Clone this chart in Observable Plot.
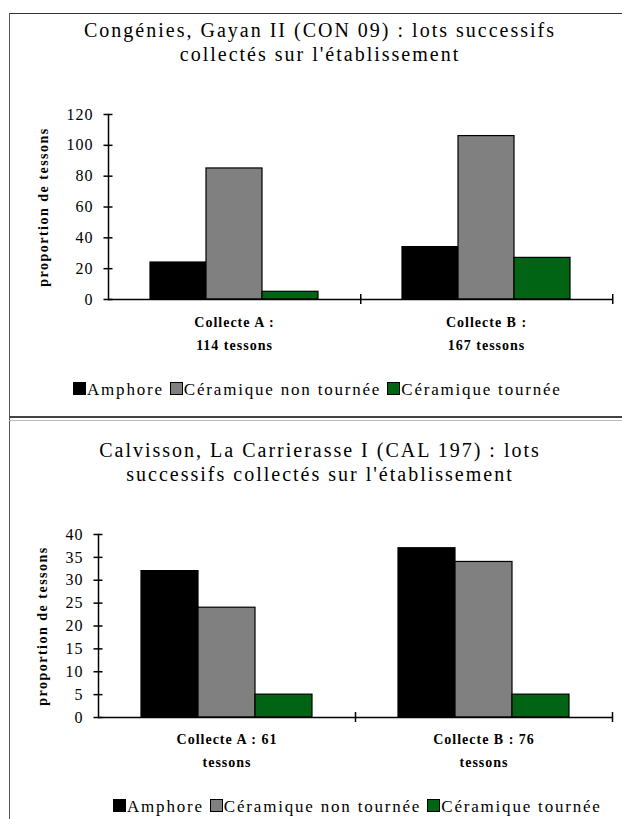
<!DOCTYPE html>
<html><head><meta charset="utf-8">
<script src="https://cdn.jsdelivr.net/npm/d3@7"></script>
<script src="https://cdn.jsdelivr.net/npm/@observablehq/plot@0.6"></script>
<style>
body{margin:0;background:#fff;}
#page{position:relative;width:622px;height:819px;overflow:hidden;font-family:"Liberation Serif","DejaVu Serif",serif;color:#000;background:#fff;}
.abs{position:absolute;}
.title{position:absolute;left:10px;width:620px;text-align:center;font-size:20px;letter-spacing:2px;line-height:24px;white-space:nowrap;}
.legend{position:absolute;font-size:17px;letter-spacing:1.8px;white-space:nowrap;line-height:20px;}
.sw{display:inline-block;width:11px;height:11px;border:1px solid #000;margin-right:1px;vertical-align:0px;}
.chart{position:absolute;left:0;}
.chart g[aria-label="y-axis label"] text{font-weight:bold;font-size:14px;letter-spacing:1.5px;}
.chart g[aria-label="y-axis tick label"] text{font-size:16px;letter-spacing:1px;}
.chart g[aria-label="text"] text{letter-spacing:1px;}
</style></head><body><div id="page">
<div class="abs" style="left:9px;top:13px;width:613px;height:1px;background:#333"></div>
<div class="abs" style="left:9px;top:13px;width:1px;height:806px;background:#555"></div>
<div class="abs" style="left:9px;top:416px;width:613px;height:2px;background:#444"></div>
<div class="abs" style="left:9px;top:420px;width:613px;height:1px;background:#bbb"></div>
</div>
<script>
// ---- data ----
const types = ["Amphore", "Céramique non tournée", "Céramique tournée"];
const typeColors = ["#000000", "#808080", "#006414"];

const title1 = ["Congénies, Gayan II (CON 09) : lots successifs", "collectés sur l'établissement"];
const collectes1 = ["Collecte A", "Collecte B"];
const collecteLabels1 = ["Collecte A :\n114 tessons", "Collecte B :\n167 tessons"];
const amphore1 = [24, 34];
const nonTournee1 = [85, 106];
const tournee1 = [5, 27];
const yTicks1 = [0, 20, 40, 60, 80, 100, 120];

const title2 = ["Calvisson, La Carrierasse I (CAL 197) : lots", "successifs collectés sur l'établissement"];
const collectes2 = ["Collecte A", "Collecte B"];
const collecteLabels2 = ["Collecte A : 61\ntessons", "Collecte B : 76\ntessons"];
const amphore2 = [32, 37];
const nonTournee2 = [24, 34];
const tournee2 = [5, 5];
const yTicks2 = [0, 5, 10, 15, 20, 25, 30, 35, 40];

const yLabel = "proportion de tessons";

const page = document.getElementById("page");

function addTitle(lines, top) {
  const d = document.createElement("div");
  d.className = "title";
  d.style.top = top + "px";
  d.innerHTML = lines.map(l => `<div>${l}</div>`).join("");
  page.appendChild(d);
}
function addLegend(left, top) {
  const d = document.createElement("div");
  d.className = "legend";
  d.style.left = left + "px";
  d.style.top = top + "px";
  d.innerHTML = types.map((t, i) => `<span class="sw" style="background:${typeColors[i]}"></span>${t}`).join(" ");
  page.appendChild(d);
}

function makeChart(cfg) {
  const {collectes, labels, series, yTicks, top, height, marginLeft, marginTop, marginBottom, labelDy, labelOffset} = cfg;
  const width = 622, marginRight = 10;
  const rows = [];
  collectes.forEach((c, i) => types.forEach((t, j) => rows.push({collecte: c, type: t, value: series[j][i]})));
  const labelRows = collectes.map((c, i) => ({collecte: c, label: labels[i]}));
  const facetW = (width - marginLeft - marginRight) / collectes.length;
  const yMax = yTicks[yTicks.length - 1];
  const svg = Plot.plot({
    width, height, marginLeft, marginRight, marginTop, marginBottom,
    style: {fontFamily: "'Liberation Serif', serif", fontSize: "15px", color: "#000", background: "transparent", overflow: "visible"},
    fx: {domain: collectes, padding: 0, label: null},
    x: {domain: types, paddingInner: 0, paddingOuter: 0.73, axis: null},
    y: {domain: [0, yMax]},
    color: {domain: types, range: typeColors},
    marks: [
      Plot.barY(rows, {fx: "collecte", x: "type", y: "value", fill: "type", stroke: "#000", strokeWidth: 1.2, inset: 0}),
      Plot.ruleY([0], {stroke: "#000", strokeWidth: 1.5}),
      Plot.frame({anchor: "left", facetAnchor: "left", stroke: "#000", strokeWidth: 1.5}),
      Plot.axisY({ticks: yTicks, tickSize: 9, dx: 4.5, tickFormat: () => "", strokeWidth: 1.5, label: null}),
      Plot.axisY({ticks: yTicks, tickSize: 0, tickPadding: 15, fontSize: 16, label: yLabel, labelAnchor: "center", labelArrow: false, labelOffset}),
      Plot.axisFx({anchor: "bottom", tickSize: 10, dy: -5, dx: facetW / 2, tickFormat: () => "", strokeWidth: 1.5, label: null}),
      Plot.text(labelRows, {fx: "collecte", text: "label", frameAnchor: "bottom", dy: labelDy, lineAnchor: "top", lineHeight: 1.65, fontSize: 14, fontWeight: "bold"})
    ]
  });
  svg.classList.add("chart");
  svg.style.top = top + "px";
  page.appendChild(svg);
  return svg;
}

addTitle(title1, 18);
makeChart({collectes: collectes1, labels: collecteLabels1, series: [amphore1, nonTournee1, tournee1], yTicks: yTicks1,
  top: 100, height: 260, marginLeft: 107, marginTop: 14, marginBottom: 61, labelDy: 11, labelOffset: 70});
addLegend(73, 380);

addTitle(title2, 438);
makeChart({collectes: collectes2, labels: collecteLabels2, series: [amphore2, nonTournee2, tournee2], yTicks: yTicks2,
  top: 520, height: 240, marginLeft: 98, marginTop: 14, marginBottom: 43, labelDy: 10, labelOffset: 61});
addLegend(113, 797);
</script>
</body></html>
